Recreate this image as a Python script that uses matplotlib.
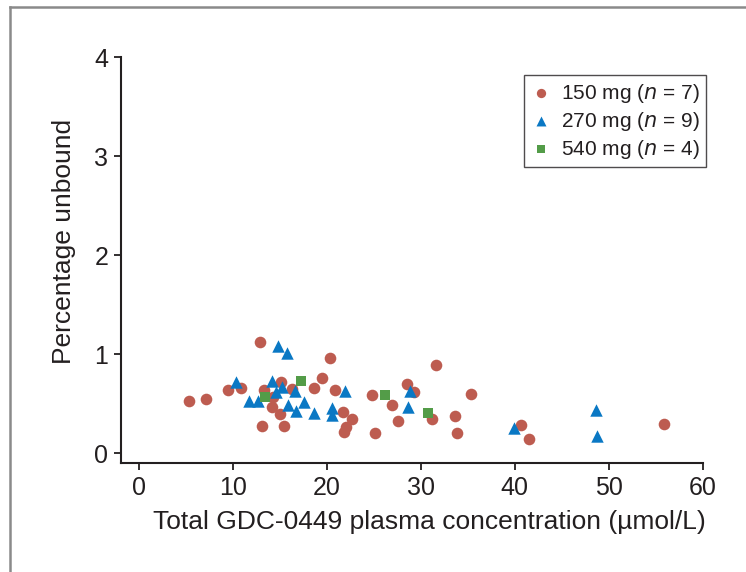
import matplotlib

matplotlib.use("Agg")
import matplotlib.pyplot as plt
from matplotlib.lines import Line2D

# 150 mg (n = 7)
x150 = [5.4, 7.2, 9.5, 10.9, 12.9, 13.1, 13.3, 14.3, 14.2, 15.0, 15.2, 15.45,
        16.3, 18.65, 19.5, 20.4, 20.9, 21.7, 22.65, 22.05, 21.9, 24.8, 25.1,
        26.9, 27.55, 28.6, 29.25, 31.6, 31.2, 33.65, 33.85, 35.4, 40.7, 41.55,
        55.9]
y150 = [0.53, 0.55, 0.64, 0.66, 1.12, 0.28, 0.64, 0.57, 0.47, 0.40, 0.72, 0.28,
        0.655, 0.66, 0.76, 0.96, 0.64, 0.42, 0.35, 0.27, 0.22, 0.585, 0.21,
        0.49, 0.33, 0.70, 0.62, 0.89, 0.35, 0.38, 0.21, 0.595, 0.29, 0.15,
        0.295]

# 270 mg (n = 9)
x270 = [10.4, 11.75, 12.7, 14.15, 14.8, 15.8, 14.6, 15.3, 16.6, 15.9, 17.6,
        16.7, 18.65, 20.6, 20.55, 22.0, 28.9, 28.65, 39.9, 48.7, 48.8]
y270 = [0.72, 0.53, 0.53, 0.73, 1.08, 1.01, 0.62, 0.67, 0.63, 0.49, 0.52,
        0.43, 0.41, 0.46, 0.39, 0.63, 0.635, 0.47, 0.255, 0.44, 0.18]

# 540 mg (n = 4)
x540 = [13.4, 17.3, 26.2, 30.8]
y540 = [0.57, 0.73, 0.59, 0.41]

RED, BLUE, GREEN = "#bd5c50", "#0a78c4", "#539c48"
INK = "#231f20"

plt.rcParams.update({"font.family": ["Liberation Sans", "DejaVu Sans"],
                     "text.color": INK, "axes.labelcolor": INK,
                     "xtick.color": INK, "ytick.color": INK,
                     "axes.edgecolor": INK})

fig = plt.figure(figsize=(7.46, 5.72), dpi=100)
ax = fig.add_axes([0.1618, 0.19, 0.7802, 0.71])

ax.scatter(x150, y150, s=70, marker="o", color=RED, lw=0, zorder=3,
           label="150 mg ($n$ = 7)")
ax.scatter(x270, y270, s=80, marker="^", color=BLUE, lw=0, zorder=3,
           label="270 mg ($n$ = 9)")
ax.scatter(x540, y540, s=60, marker="s", color=GREEN, lw=0, zorder=3,
           label="540 mg ($n$ = 4)")

ax.set_xlim(-1.9, 60)
ax.set_ylim(-0.1, 4)
ax.set_xticks([0, 10, 20, 30, 40, 50, 60])
ax.set_yticks([0, 1, 2, 3, 4])
ax.spines["top"].set_visible(False)
ax.spines["right"].set_visible(False)
for s in ("left", "bottom"):
    ax.spines[s].set_linewidth(1.5)
ax.tick_params(direction="out", length=5, width=1.3, labelsize=18, pad=4)

ax.set_xlabel("Total GDC-0449 plasma concentration (µmol/L)", fontsize=19,
              labelpad=7, x=0.53)
ax.set_ylabel("Percentage unbound", fontsize=19, labelpad=13, y=0.547)

leg = ax.legend(loc="upper right", bbox_to_anchor=(1.006, 0.956),
                borderaxespad=0, fontsize=15, frameon=True, fancybox=False,
                edgecolor=INK, markerscale=0.8, handletextpad=0.45,
                borderpad=0.32, labelspacing=0.24, handlelength=1.0)
leg.get_frame().set_linewidth(1.0)

# grey page border (top and left edges visible)
fig.add_artist(Line2D([10 / 746, 1], [1 - 7 / 572, 1 - 7 / 572],
                      transform=fig.transFigure, color="#8a8a8a", lw=1.8))
fig.add_artist(Line2D([10 / 746, 10 / 746], [0, 1 - 7 / 572],
                      transform=fig.transFigure, color="#8a8a8a", lw=1.8))

fig.savefig("out.png", dpi=100)
